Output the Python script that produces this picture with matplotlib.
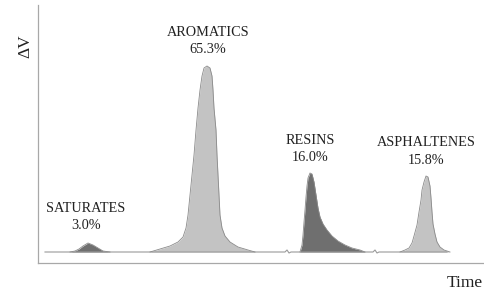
import matplotlib.pyplot as plt

plt.rcParams['font.family'] = ['Liberation Serif', 'DejaVu Serif']

# Chromatogram trace (time in arbitrary units, signal in arbitrary units)
baseline_t = [7, 247, 249, 251, 253, 335, 337, 339, 341, 409]
baseline_v = [0, 0, 2, -1, 0, 0, 2, -1, 0, 0]

saturates_t = [32, 37, 41, 45, 50, 55, 60, 65, 72]
saturates_v = [0, 1, 3, 6, 9, 7, 4, 1, 0]

aromatics_t = [112, 122, 132, 140, 145, 148, 150, 152, 154, 156, 158, 160, 162, 164,
               166, 169, 172, 174, 175, 176, 178, 179, 180, 181, 182, 184, 187, 192,
               200, 210, 217]
aromatics_v = [0, 3, 6, 10, 15, 24, 37, 57, 77, 97, 122, 144, 162, 176, 184, 186,
               184, 176, 162, 144, 122, 97, 77, 57, 37, 24, 16, 10, 5, 2, 0]

resins_t = [262, 264, 265, 266, 267, 268, 269, 270, 272, 274, 276, 278, 280, 282,
            285, 289, 294, 300, 307, 314, 322, 327]
resins_v = [0, 7, 17, 30, 42, 55, 66, 74, 79, 78, 70, 57, 44, 35, 28, 22, 16, 11,
            7, 4, 2, 0]

asphaltenes_t = [362, 367, 371, 374, 376, 379, 381, 383, 384, 386, 388, 390, 392,
                 393, 394, 395, 397, 399, 402, 406, 412]
asphaltenes_v = [0, 2, 4, 9, 16, 27, 40, 52, 62, 70, 76, 75, 66, 54, 40, 28, 18,
                 10, 5, 2, 0]

peak_names = ['SATURATES', 'AROMATICS', 'RESINS', 'ASPHALTENES']
peak_shares = ['3.0%', '65.3%', '16.0%', '15.8%']
peak_label_t = [48, 170, 272, 388]
peak_label_v = [44, 220, 112, 109]

light = '#c3c3c3'
dark = '#6f6f6f'
edge = '#8a8a8a'

fig = plt.figure(figsize=(4.84, 2.95), dpi=100)
ax = fig.add_axes([38 / 484, 32 / 295, 446 / 484, 258 / 295])

ax.plot(baseline_t, baseline_v, color='#9a9a9a', lw=0.8)

peaks = [(saturates_t, saturates_v, dark),
         (aromatics_t, aromatics_v, light),
         (resins_t, resins_v, dark),
         (asphaltenes_t, asphaltenes_v, light)]
for t, v, c in peaks:
    ax.fill_between(t, 0, v, color=c, lw=0)
    ax.plot(t, v, color=edge, lw=0.6)

for name, share, x, y in zip(peak_names, peak_shares, peak_label_t, peak_label_v):
    ax.text(x, y, name, ha='center', va='center', fontsize=10.3, color='#222222')
    ax.text(x, y - 17.5, share, ha='center', va='center', fontsize=10.3, color='#222222')

ax.set_xlim(0, 446)
ax.set_ylim(-11, 247)
ax.set_xticks([])
ax.set_yticks([])
for s in ['top', 'right']:
    ax.spines[s].set_visible(False)
for s in ['left', 'bottom']:
    ax.spines[s].set_color('#a8a8a8')
    ax.spines[s].set_linewidth(0.9)

fig.text(25 / 484, 1 - 46 / 295, 'ΔV', rotation=90, ha='center', va='center',
         fontsize=12.5, color='#222222')
fig.text(465 / 484, 1 - 283 / 295, 'Time', ha='center', va='center',
         fontsize=12.5, color='#222222')

fig.savefig('out.png', dpi=100)
